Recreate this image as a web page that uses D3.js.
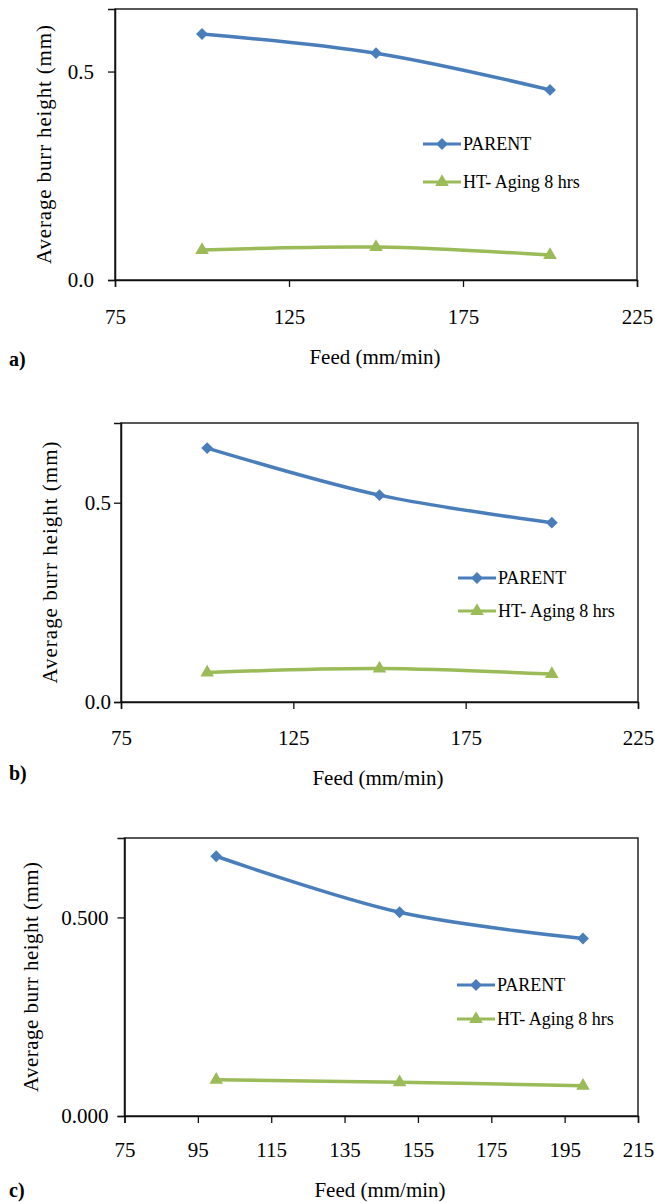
<!DOCTYPE html>
<html>
<head>
<meta charset="utf-8">
<script src="https://cdn.jsdelivr.net/npm/d3@7"></script>
<style>
    body { margin: 0; background: #fff; }
    svg { display: block; font-family: "Liberation Serif", "Times New Roman", Times, serif; }
    svg text { font-family: "Liberation Serif", "Times New Roman", Times, serif !important; fill: #000; }
</style>
</head>
<body>
<div id="chart"></div>
<script>

// feed values (mm/min), shared by all three panels
var feed = [100, 150, 200];
var seriesNames = ["PARENT", "HT- Aging 8 hrs"];

// panel a)
var parentA = [0.590, 0.544, 0.456];
var agingA = [0.072, 0.079, 0.060];
// panel b)
var parentB = [0.637, 0.519, 0.450];
var agingB = [0.074, 0.084, 0.070];
// panel c)
var parentC = [0.654, 0.513, 0.447];
var agingC = [0.091, 0.085, 0.076];

// tick values
var xTicksAB = [75, 125, 175, 225];
var xTicksC = [75, 95, 115, 135, 155, 175, 195, 215];
var yTicks = [0, 0.5];

var blue = "#4a7ebb",
    green = "#9bbb59";

var svg = d3.select("#chart")
    .append("svg")
    .attr("width", 655)
    .attr("height", 1203);

// layout of each panel (pixels)
var panels = [
    { label: "a)", parent: parentA, aging: agingA, xTicks: xTicksAB, xDomain: [75, 225], yMax: 0.65, yFmt: ".1f",
      left: 115, right: 637, top: 9, bottom: 280, yPad: 14, xPad: 22,
      legendX: 423, legendY: 144, legendGap: 38, yTitleX: 44, yTitleLen: 239, xTitleX: 375, xTitleY: 364, labelY: 366 },
    { label: "b)", parent: parentB, aging: agingB, xTicks: xTicksAB, xDomain: [75, 225], yMax: 0.7, yFmt: ".1f",
      left: 121, right: 638, top: 423, bottom: 702, yPad: 3, xPad: 21,
      legendX: 458, legendY: 578, legendGap: 33, yTitleX: 50, yTitleLen: 242, xTitleX: 378, xTitleY: 785, labelY: 780 },
    { label: "c)", parent: parentC, aging: agingC, xTicks: xTicksC, xDomain: [75, 215], yMax: 0.7, yFmt: ".3f",
      left: 124.5, right: 638, top: 838, bottom: 1116, yPad: 9, xPad: 19,
      legendX: 457, legendY: 985, legendGap: 34, yTitleX: 31, yTitleLen: 230, xTitleX: 380, xTitleY: 1197, labelY: 1197 }
];

panels.forEach(function(p) {
    var g = svg.append("g");

    // scales
    var x = d3.scaleLinear().domain(p.xDomain).range([p.left, p.right]);
    var y = d3.scaleLinear().domain([0, p.yMax]).range([p.bottom, p.top]);

    // plot area border
    g.append("rect")
        .attr("x", p.left)
        .attr("y", p.top)
        .attr("width", p.right - p.left)
        .attr("height", p.bottom - p.top)
        .attr("fill", "none")
        .attr("stroke", "#222")
        .attr("stroke-width", 1.5);

    // x axis
    var xAxis = g.append("g")
        .attr("transform", "translate(0," + p.bottom + ")")
        .call(d3.axisBottom(x).tickValues(p.xTicks).tickSize(7).tickPadding(p.xPad).tickFormat(d3.format("d")));
    // y axis
    var yAxis = g.append("g")
        .attr("transform", "translate(" + p.left + ",0)")
        .call(d3.axisLeft(y).tickValues(yTicks).tickSize(7).tickPadding(p.yPad).tickFormat(d3.format(p.yFmt)));

    [xAxis, yAxis].forEach(function(ax) {
        ax.attr("font-family", null).attr("font-size", null);
        ax.select(".domain").attr("stroke", "#111").attr("stroke-width", 1.5);
        ax.selectAll(".tick line").attr("stroke", "#111").attr("stroke-width", 1.3);
        ax.selectAll(".tick text").style("font-size", "21px").attr("fill", "#000");
    });

    // lines
    var line = d3.line()
        .x(function(d, i) { return x(feed[i]); })
        .y(function(d) { return y(d); })
        .curve(d3.curveCatmullRom.alpha(0.5));

    var series = [
        { name: seriesNames[0], values: p.parent, color: blue, symbol: "diamond" },
        { name: seriesNames[1], values: p.aging, color: green, symbol: "triangle" }
    ];

    function marker(sel, s) {
        if (s.symbol == "diamond") {
            sel.attr("d", d3.symbol().type(d3.symbolSquare).size(70)())
                .attr("transform", function() {
                    return d3.select(this).attr("transform") + " rotate(45)";
                });
        } else {
            sel.attr("d", d3.symbol().type(d3.symbolTriangle).size(80)());
        }
        sel.attr("fill", s.color);
    }

    series.forEach(function(s, k) {
        g.append("path")
            .datum(s.values)
            .attr("fill", "none")
            .attr("stroke", s.color)
            .attr("stroke-width", 3.5)
            .attr("d", line);

        g.selectAll("path.pt" + k)
            .data(s.values)
            .enter()
            .append("path")
            .attr("class", "pt" + k)
            .attr("transform", function(d, i) { return "translate(" + x(feed[i]) + "," + y(d) + ")"; })
            .call(marker, s);

        // legend entry
        var ly = p.legendY + k * p.legendGap;
        g.append("line")
            .attr("x1", p.legendX)
            .attr("x2", p.legendX + 38)
            .attr("y1", ly)
            .attr("y2", ly)
            .attr("stroke", s.color)
            .attr("stroke-width", 3);
        g.append("path")
            .attr("transform", "translate(" + (p.legendX + 19) + "," + ly + ")")
            .call(marker, s);
        g.append("text")
            .attr("x", p.legendX + 40)
            .attr("y", ly)
            .attr("dy", "0.35em")
            .style("font-size", "18px")
            .text(s.name);
    });

    // axis titles
    g.append("text")
        .attr("transform", "translate(" + p.yTitleX + "," + ((p.top + p.bottom) / 2) + ") rotate(-90)")
        .attr("text-anchor", "middle")
        .attr("dy", "0.35em")
        .attr("textLength", p.yTitleLen)
        .attr("lengthAdjust", "spacing")
        .style("font-size", "21px")
        .text("Average burr height (mm)");

    g.append("text")
        .attr("x", p.xTitleX)
        .attr("y", p.xTitleY)
        .attr("text-anchor", "middle")
        .style("font-size", "21px")
        .text("Feed (mm/min)");

    // panel label
    g.append("text")
        .attr("x", 9)
        .attr("y", p.labelY)
        .style("font-size", "20px")
        .style("font-weight", "bold")
        .text(p.label);
});

</script>
</body>
</html>
